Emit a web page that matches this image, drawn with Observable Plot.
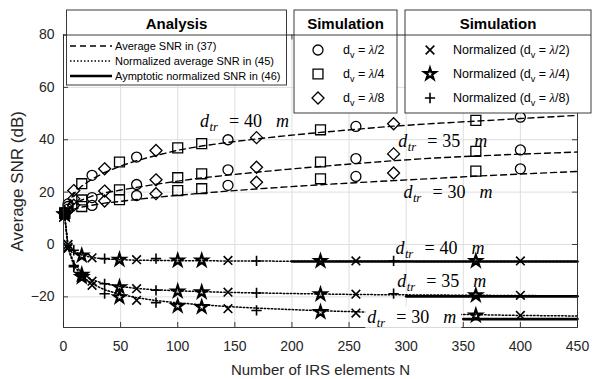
<!DOCTYPE html>
<html><head><meta charset="utf-8">
<script src="https://cdn.jsdelivr.net/npm/d3@7"></script>
<script src="https://cdn.jsdelivr.net/npm/@observablehq/plot@0.6"></script>
<style>
html,body{margin:0;padding:0;background:#fff;}
#chart{width:592px;height:379px;}
</style></head><body><div id="chart"></div>
<script>
// ---------- data ----------
const distances = [40, 35, 30];
// analysis curves (dense N grid)
const N_ana = [1, 4, 9, 16, 25, 36, 49, 64, 81, 100, 121, 144, 169, 196, 225, 256, 289, 324, 361, 400, 450];
const avg40 = [11, 15, 19.5, 22.3, 25, 27.5, 29.8, 32, 34, 36, 37.6, 39, 40.3, 41.6, 42.8, 44, 45.2, 46.2, 47.1, 48.1, 49.3];
const avg35 = [11, 13.5, 15.5, 17, 18.5, 19.7, 20.7, 21.8, 23, 24.2, 25.4, 26.5, 27.6, 28.7, 29.8, 30.9, 32, 33, 33.8, 34.5, 35.3];
const avg30 = [11, 12.5, 13.5, 14.3, 15, 15.8, 16.4, 17.2, 18, 18.8, 19.6, 20.4, 21.2, 22, 22.8, 23.6, 24.4, 25.2, 26.1, 26.9, 27.9];
const norm40 = [11, 0, -2.5, -4, -5, -5.5, -5.8, -6, -6.1, -6.2, -6.2, -6.3, -6.3, -6.4, -6.4, -6.4, -6.4, -6.5, -6.5, -6.5, -6.5];
const norm35 = [11, -1, -7, -11, -13.5, -15, -16, -16.8, -17.3, -17.7, -18, -18.3, -18.5, -18.7, -18.9, -19.1, -19.2, -19.3, -19.4, -19.5, -19.6];
const norm30 = [11, -1.5, -8, -12, -15, -17.3, -19, -20.3, -21.4, -22.3, -23, -23.7, -24.3, -24.8, -25.3, -25.7, -26.1, -26.5, -26.8, -27.1, -27.3];
// asymptotic normalized SNR
const asymStart = [200, 300, 350];
const asymEnd = 450;
const asymLevel = [-6.5, -19.8, -28.5];

// simulation markers
const N_half = [1, 4, 25, 64, 144, 256, 400];      // d_v = λ/2
const N_quarter = [1, 16, 49, 100, 121, 225, 361]; // d_v = λ/4
const N_eighth = [1, 9, 36, 81, 169, 289];         // d_v = λ/8
const simHalf40 = [12, 15.5, 26.4, 33.4, 40, 45.1, 48.6];
const simHalf35 = [12, 14.5, 17.9, 22.9, 28.5, 32.8, 36.1];
const simHalf30 = [12, 13.5, 14.9, 18.7, 22.6, 26.0, 28.9];
const simQuarter40 = [12, 23.2, 31.5, 36.9, 38.5, 43.8, 47.4];
const simQuarter35 = [12, 17, 20.9, 25.5, 27.0, 31.5, 35.6];
const simQuarter30 = [12, 14.5, 17.1, 20.6, 21.3, 25.1, 28.0];
const simEighth40 = [12, 20.6, 28.9, 35.9, 40.8, 46.1];
const simEighth35 = [12, 17.5, 20.4, 24.7, 29.5, 34.6];
const simEighth30 = [12, 15, 16.6, 19.4, 23.8, 27.3];
const nHalf40 = [11.5, 0, -5.1, -5.8, -6.1, -6.3, -6.3];
const nHalf35 = [11.5, -1, -14, -16.9, -18.2, -19, -19.4];
const nHalf30 = [11.5, -1.5, -15.6, -21.3, -24.5, -26.2, -27.1];
const nQuarter40 = [11.5, -4.2, -5.8, -6.1, -6.1, -6.3, -6.3];
const nQuarter35 = [11.5, -11.5, -16.3, -17.9, -18.2, -19, -19.4];
const nQuarter30 = [11.5, -12.4, -20.1, -23.5, -23.9, -25.8, -27.1];
const nEighth40 = [11.5, -2.2, -5.4, -5.4, -6.3, -6.3];
const nEighth35 = [11.5, -8, -15, -17.5, -18.5, -18.8];
const nEighth30 = [11.5, -8.5, -18.8, -22.2, -25.2, -26.2];

// ticks
const xTicks = [0, 50, 100, 150, 200, 250, 300, 350, 400, 450];
const yTicks = [-20, 0, 20, 40, 60, 80];

// annotations (data coordinates)
const annoN =   [120, 293.6, 298, 291, 292.7, 266.4];
const annoSNR = [44.7, 37.1, 17.6, -3.8, -16.4, -30.1];
const annoD =   [40, 35, 30, 40, 35, 30];

// ---------- build rows ----------
const curveRows = (arrs) => arrs.flatMap((a, k) => N_ana.map((n, i) => ({N: n, v: a[i], d: distances[k]})));
const avgRows = curveRows([avg40, avg35, avg30]);
const normRows = curveRows([norm40, norm35, norm30]);
const asymRows = distances.flatMap((d, k) => [{N: asymStart[k], v: asymLevel[k], d}, {N: asymEnd, v: asymLevel[k], d}]);
const simRows = (Ns, arrs) => arrs.flatMap((a, k) => Ns.map((n, i) => ({N: n, v: a[i], d: distances[k]})));
const rHalf = simRows(N_half, [simHalf40, simHalf35, simHalf30]);
const rQuarter = simRows(N_quarter, [simQuarter40, simQuarter35, simQuarter30]);
const rEighth = simRows(N_eighth, [simEighth40, simEighth35, simEighth30]);
const rnHalf = simRows(N_half, [nHalf40, nHalf35, nHalf30]);
const rnQuarter = simRows(N_quarter, [nQuarter40, nQuarter35, nQuarter30]);
const rnEighth = simRows(N_eighth, [nEighth40, nEighth35, nEighth30]);

// ---------- layout ----------
const W = 592, H = 379, mL = 63, mR = 15, mT = 34.5, mB = 52;
const pW = W - mL - mR, pH = H - mT - mB;
const AX = "#262626";
const sym = {
  circle: {s: "circle", r: 5, w: 1.3},
  square: {s: "square", r: 5.6, w: 1.3},
  diamond: {s: "diamond2", r: 5.4, w: 1.3},
  times: {s: "times", r: 4, w: 1.6},
  star: {s: "star", r: 3.6, w: 2.2},
  plus: {s: "plus", r: 3.4, w: 1.6}
};
const dot = (rows, k) => Plot.dot(rows, {x: "N", y: "v", symbol: sym[k].s, r: sym[k].r, stroke: "black", strokeWidth: sym[k].w, fill: "none"});

const plot = Plot.plot({
  width: W, height: H,
  marginLeft: mL, marginRight: mR, marginTop: mT, marginBottom: mB,
  style: {fontFamily: "'Liberation Sans', Arial, sans-serif", fontSize: "14px", color: AX, background: "white"},
  x: {domain: [0, 450]},
  y: {domain: [-31.7, 80]},
  marks: [
    Plot.gridX(xTicks, {stroke: "#dedede", strokeOpacity: 1}),
    Plot.gridY(yTicks, {stroke: "#dedede", strokeOpacity: 1}),
    Plot.line(avgRows, {x: "N", y: "v", z: "d", stroke: "black", strokeWidth: 1.4, strokeDasharray: "6,4"}),
    Plot.line(normRows, {x: "N", y: "v", z: "d", stroke: "black", strokeWidth: 1.5, strokeDasharray: "1.5,2"}),
    Plot.line(asymRows, {x: "N", y: "v", z: "d", stroke: "black", strokeWidth: 2.6}),
    dot(rHalf, "circle"), dot(rQuarter, "square"), dot(rEighth, "diamond"),
    dot(rnHalf, "times"), dot(rnQuarter, "star"), dot(rnEighth, "plus"),
    Plot.frame({stroke: AX, strokeWidth: 0.9}),
    Plot.tickX(xTicks, {x: d => d, insetTop: pH - 5, stroke: AX, strokeWidth: 0.9}),
    Plot.tickX(xTicks, {x: d => d, insetBottom: pH - 5, stroke: AX, strokeWidth: 0.9}),
    Plot.tickY(yTicks, {y: d => d, insetRight: pW - 5, stroke: AX, strokeWidth: 0.9}),
    Plot.tickY(yTicks, {y: d => d, insetLeft: pW - 5, stroke: AX, strokeWidth: 0.9}),
    Plot.axisX(xTicks, {tickSize: 0, tickPadding: 14, label: null, fontSize: 14}),
    Plot.axisY(yTicks, {tickSize: 0, tickPadding: 9, label: null, fontSize: 14}),
    Plot.text(["Number of IRS elements N"], {frameAnchor: "bottom", dy: 43, textAnchor: "middle", lineAnchor: "middle", fontSize: 15}),
    Plot.text(["Average SNR (dB)"], {frameAnchor: "left", rotate: -90, dx: -46, textAnchor: "middle", lineAnchor: "middle", fontSize: 17})
  ]
});
document.getElementById("chart").appendChild(plot);

// ---------- annotations ----------
const sx = plot.scale("x"), sy = plot.scale("y");
const svg = d3.select(plot);
const ann = svg.append("g").attr("font-family", "'Liberation Serif', 'Times New Roman', serif").attr("fill", "black").attr("text-anchor", "start");
annoD.forEach((d, i) => {
  const x = sx.apply(annoN[i]), y = sy.apply(annoSNR[i]);
  if (i === 5) ann.append("rect").attr("x", x - 2).attr("y", y - 16).attr("width", 96).attr("height", 21).attr("fill", "white");
  const t = ann.append("text").attr("y", y).attr("font-size", 18).attr("text-anchor", "start");
  t.append("tspan").attr("x", x).attr("font-style", "italic").text("d");
  t.append("tspan").attr("x", x + 9.5).attr("dy", 4).attr("font-style", "italic").attr("font-size", 12.5).text("tr");
  t.append("tspan").attr("x", x + 29).attr("dy", -4).text("=");
  t.append("tspan").attr("x", x + 44).text(String(d));
  t.append("tspan").attr("x", x + 76).attr("font-style", "italic").text("m");
});

// ---------- legends ----------
const lg = svg.append("g").attr("font-family", "'Liberation Sans', Arial, sans-serif").attr("fill", "black").attr("text-anchor", "start");
function box(x, y, w, h, title) {
  lg.append("rect").attr("x", x).attr("y", y).attr("width", w).attr("height", h).attr("fill", "white").attr("stroke", AX).attr("stroke-width", 0.9);
  lg.append("line").attr("x1", x).attr("x2", x + w).attr("y1", y + 25).attr("y2", y + 25).attr("stroke", AX).attr("stroke-width", 0.9);
  lg.append("text").attr("x", x + w / 2).attr("y", y + 13).attr("dominant-baseline", "central").attr("text-anchor", "middle")
    .attr("font-weight", "bold").attr("font-size", 15).text(title);
}
box(66.5, 10, 220, 75, "Analysis");
box(294, 10, 103, 103, "Simulation");
box(405, 10, 186, 103, "Simulation");

const anaItems = [
  {dash: "6,4", w: 1.4, label: "Average SNR in (37)"},
  {dash: "1.5,2", w: 1.5, label: "Normalized average SNR in (45)"},
  {dash: null, w: 2.6, label: "Aymptotic normalized SNR in (46)"}
];
const anaRowY = [46, 61, 76];
anaItems.forEach((it, i) => {
  const l = lg.append("line").attr("x1", 70).attr("x2", 112).attr("y1", anaRowY[i]).attr("y2", anaRowY[i]).attr("stroke", "black").attr("stroke-width", it.w);
  if (it.dash) l.attr("stroke-dasharray", it.dash);
  lg.append("text").attr("x", 115).attr("y", anaRowY[i]).attr("dominant-baseline", "central").attr("text-anchor", "start").attr("font-size", 11).text(it.label);
});

const d3sym = {circle: d3.symbolCircle, square: d3.symbolSquare, diamond2: d3.symbolDiamond2, times: d3.symbolTimes, star: d3.symbolStar, plus: d3.symbolPlus};
function marker(k, x, y) {
  const s = sym[k];
  lg.append("path").attr("d", d3.symbol(d3sym[s.s], Math.PI * s.r * s.r)()).attr("transform", `translate(${x},${y})`)
    .attr("fill", "none").attr("stroke", "black").attr("stroke-width", s.w);
}
function dvLabel(x, y, frac, prefix, suffix) {
  const t = lg.append("text").attr("x", x).attr("y", y + 4).attr("font-size", 12.5).attr("text-anchor", "start");
  if (prefix) t.append("tspan").text(prefix);
  t.append("tspan").text("d");
  t.append("tspan").attr("dy", 4).attr("font-size", 9).text("v");
  t.append("tspan").attr("dy", -4).text(" = ");
  t.append("tspan").attr("font-family", "'Liberation Serif', serif").attr("font-style", "italic").text("λ");
  t.append("tspan").text("/" + frac + (suffix || ""));
}
const simRowY = [50, 74, 98];
const fracs = ["2", "4", "8"];
["circle", "square", "diamond"].forEach((k, i) => { marker(k, 318, simRowY[i]); dvLabel(343, simRowY[i], fracs[i]); });
["times", "star", "plus"].forEach((k, i) => { marker(k, 430, simRowY[i]); dvLabel(453, simRowY[i], fracs[i], "Normalized (", ")"); });
</script></body></html>
